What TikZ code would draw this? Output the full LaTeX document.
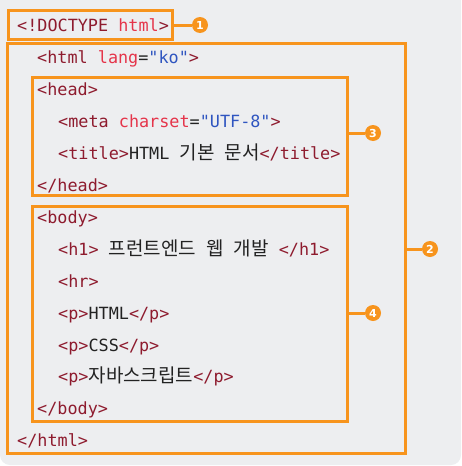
\documentclass[tikz,border=0pt]{standalone}
\usepackage{fontspec}
\setmonofont{DejaVu Sans Mono}
\newfontfamily\krfont[Scale=1.13]{Noto Sans CJK KR}
\newfontfamily\numfont{DejaVu Sans}
\definecolor{bgc}{HTML}{EDEEF0}
\definecolor{orc}{HTML}{F7941D}
\definecolor{tagc}{HTML}{8E1B2E}
\definecolor{attc}{HTML}{E5344A}
\definecolor{valc}{HTML}{2F55C0}
\definecolor{txc}{HTML}{222222}
\newcommand\tg[1]{\textcolor{tagc}{#1}}
\newcommand\at[1]{\textcolor{attc}{#1}}
\newcommand\vl[1]{\textcolor{valc}{#1}}
\newcommand\kr[1]{{\krfont #1}}
\begin{document}
\begin{tikzpicture}[x=1pt,y=-1pt,
  code/.style={anchor=base west,inner sep=0pt,font=\ttfamily\fontsize{16.8}{18}\selectfont,text=txc},
  frame/.style={draw=orc,line width=3pt,rectangle,inner sep=0pt},
  badge/.style={circle,fill=orc,text=white,minimum size=16pt,inner sep=0pt,font=\numfont\bfseries\fontsize{11}{11}\selectfont},
  link/.style={draw=orc,line width=3pt}]
\useasboundingbox (0,0) rectangle (461,466);
\fill[white] (0,0) rectangle (461,466);
\fill[bgc,rounded corners=10pt] (0,-20) rectangle (461,465);
% frames
\node[frame,minimum width=164pt,minimum height=29pt] (b1) at (90,24.5) {};
\node[frame,minimum width=398pt,minimum height=410pt] (b2) at (206,248) {};
\node[frame,minimum width=315pt,minimum height=118pt] (b3) at (189.5,136) {};
\node[frame,minimum width=315pt,minimum height=215pt] (b4) at (189.5,313.5) {};
% badges
\node[badge] (c1) at (200,25) {1};
\node[badge] (c2) at (430,249) {2};
\node[badge] (c3) at (373,133) {3};
\node[badge] (c4) at (373,313) {4};
\draw[link] (c1 -| b1.east) -- (c1);
\draw[link] (c2 -| b2.east) -- (c2);
\draw[link] (c3 -| b3.east) -- (c3);
\draw[link] (c4 -| b4.east) -- (c4);
% code lines
\node[code] (t0) at (17,31) {\tg{<!DOCTYPE} \at{html}\tg{>}};
\node[code] (t1) at (37,63) {\tg{<html} \at{lang}=\vl{"ko"}\tg{>}};
\node[code] (t2) at (37,95) {\tg{<head>}};
\node[code] (t3) at (58,127.5) {\tg{<meta} \at{charset}=\vl{"UTF-8"}\tg{>}};
\node[code] (t4) at (58,159.5) {\tg{<title>}HTML \kr{기본} \kr{문서}\tg{</title>}};
\node[code] (t5) at (37,191) {\tg{</head>}};
\node[code] (t6) at (37,223) {\tg{<body>}};
\node[code] (t7) at (58,255) {\tg{<h1>} \kr{프런트엔드} \kr{웹} \kr{개발} \tg{</h1>}};
\node[code] (t8) at (58,287.5) {\tg{<hr>}};
\node[code] (t9) at (58,319) {\tg{<p>}HTML\tg{</p>}};
\node[code] (t10) at (58,351) {\tg{<p>}CSS\tg{</p>}};
\node[code] (t11) at (58,382) {\tg{<p>}\kr{자바스크립트}\tg{</p>}};
\node[code] (t12) at (37,414) {\tg{</body>}};
\node[code] (t13) at (17,446) {\tg{</html>}};
\end{tikzpicture}
\end{document}
